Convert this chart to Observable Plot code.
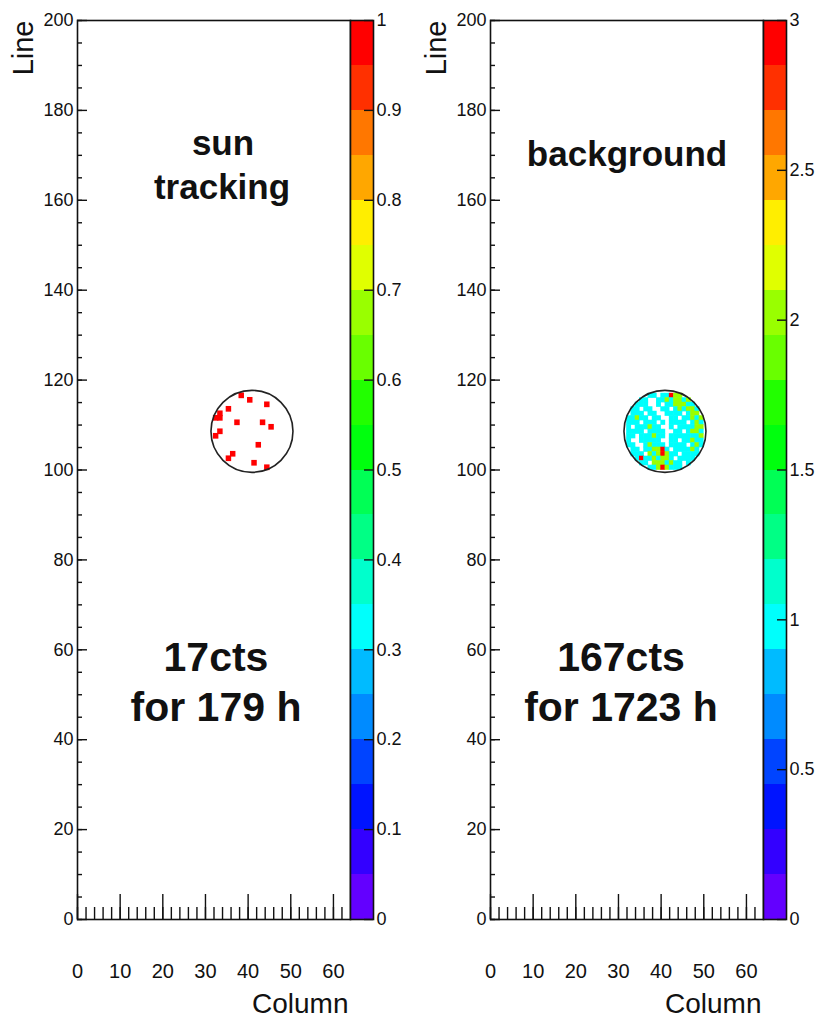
<!DOCTYPE html>
<html>
<head>
<meta charset="utf-8">
<script src="https://cdn.jsdelivr.net/npm/d3@7"></script>
<script src="https://cdn.jsdelivr.net/npm/@observablehq/plot@0.6"></script>
<style>
  html, body { margin: 0; padding: 0; background: #ffffff; }
  #wrap { position: relative; width: 820px; height: 1020px; overflow: hidden; background: #ffffff; }
  #wrap svg { position: absolute; top: 0; max-width: none; }
</style>
</head>
<body>
<div id="wrap"></div>
<script>
// ---------------- data ----------------
// sun tracking: 17 single counts (column, line)
const sunCols  = [38, 40, 44, 35, 33, 32, 33, 37, 43, 45, 33, 32, 42, 36, 35, 41, 44];
const sunLines = [116, 115, 114, 113, 112, 111, 111, 110, 110, 109, 108, 107, 105, 103, 102, 101, 100];

// background: counts per pixel, rows from line 116 down to line 100, columns 32..50 ('.' = 0)
const bgFirstCol = 32;
const bgTopLine = 116;
const bgRows = [
  ".....11.11322......",
  "...11..11212212....",
  "..111..1.1122211...",
  ".11.11..11.121221..",
  ".111.11..1111.122..",
  "11211.11..11.11212.",
  "111.111.1.1111.121.",
  "1.111211..1.111122.",
  "1111.1111..11.1221.",
  "11.111211.11111112.",
  "1..11111..11.11211.",
  "11..12111.1111.121.",
  ".11.112231.111121..",
  ".111.2123211.1111..",
  "..131121221.1111...",
  "...11.2221211.1....",
  ".....11232111......"
];

// detector aperture circle centre (column, line)
const ringCol  = [40.9];
const ringLine = [108.6];

// axis ticks
const xMajor = [0, 10, 20, 30, 40, 50, 60];
const yMajor = [0, 20, 40, 60, 80, 100, 120, 140, 160, 180, 200];
const xMinor = d3.range(0, 64, 2);
const yMinor = d3.range(0, 201, 5);

// colour levels (20 contours) and colour-bar ticks
const sunLevels = [0, 0.05, 0.1, 0.15, 0.2, 0.25, 0.3, 0.35, 0.4, 0.45, 0.5, 0.55, 0.6, 0.65, 0.7, 0.75, 0.8, 0.85, 0.9, 0.95, 1];
const bgLevels  = [0, 0.15, 0.3, 0.45, 0.6, 0.75, 0.9, 1.05, 1.2, 1.35, 1.5, 1.65, 1.8, 1.95, 2.1, 2.25, 2.4, 2.55, 2.7, 2.85, 3];
const sunBarTicks = [0, 0.1, 0.2, 0.3, 0.4, 0.5, 0.6, 0.7, 0.8, 0.9, 1];
const bgBarTicks  = [0, 0.5, 1, 1.5, 2, 2.5, 3];

// ROOT "pretty" palette, 20 contour colours from bottom to top
const palette = ["#6300ff", "#3300ff", "#0014ff", "#0044ff", "#008bff", "#00bbff", "#00fffc", "#00ffcc",
                 "#00ff85", "#00ff55", "#00ff0e", "#22ff00", "#69ff00", "#99ff00", "#e0ff00", "#ffee00",
                 "#ffa700", "#ff7700", "#ff3000", "#ff0000"];

// ---------------- build tables ----------------
const sunCells = sunCols.map((c, i) => ({col: c, line: sunLines[i], value: 1}));
const bgCells = [];
bgRows.forEach((row, i) => {
  [...row].forEach((ch, j) => {
    const v = ch === "." ? 0 : +ch;
    if (v > 0) bgCells.push({col: bgFirstCol + j, line: bgTopLine - i, value: v});
  });
});
const ring = ringCol.map((c, i) => ({col: c, line: ringLine[i]}));

// ---------------- drawing ----------------
const FONT = '"Liberation Sans", Arial, Helvetica, sans-serif';
const INK = "#111";
const FW = 273, FH = 899;   // frame size in px
const H = 1020, MT = 20, MB = 101;

function mainPanel(cells, levels, ml, cellInset, notes) {
  const marks = [
    Plot.rect(cells, {x1: "col", x2: d => d.col + 1, y1: "line", y2: d => d.line + 1, fill: "value", inset: cellInset}),
    Plot.dot(ring, {x: "col", y: "line", r: 41, stroke: "#222", strokeWidth: 1.6, fill: "none"}),
    Plot.tickX(xMinor, {x: d => d, insetTop: FH - 12, stroke: INK, strokeWidth: 1.4}),
    Plot.tickX(xMajor, {x: d => d, insetTop: FH - 25, stroke: INK, strokeWidth: 1.4}),
    Plot.tickY(yMinor, {y: d => d, insetRight: FW - 5, stroke: INK, strokeWidth: 1.4}),
    Plot.tickY(yMajor, {y: d => d, insetRight: FW - 10, stroke: INK, strokeWidth: 1.4}),
    Plot.axisX(xMajor, {tickSize: 0, tickPadding: 44, fontSize: 20, label: null}),
    Plot.axisY(yMajor, {tickSize: 0, tickPadding: 4, fontSize: 18, label: null}),
    Plot.frame({stroke: INK, strokeWidth: 1.6}),
    Plot.text(["Column"], {text: d => d, frameAnchor: "bottom-right", textAnchor: "end", lineAnchor: "bottom",
                           dx: -2, dy: 93, fontSize: 28}),
    Plot.text(["Line"], {text: d => d, frameAnchor: "top-left", rotate: -90, textAnchor: "end", lineAnchor: "middle",
                         dx: -54, dy: 0, fontSize: 29})
  ];
  for (const n of notes) {
    marks.push(Plot.text([n.t], {text: d => d, frameAnchor: "top", textAnchor: "middle", lineAnchor: "bottom",
                                  dx: n.dx, dy: n.base - MT, fontSize: n.fs, fontWeight: "bold"}));
  }
  return Plot.plot({
    width: ml + FW + 2, height: H,
    marginLeft: ml, marginRight: 2, marginTop: MT, marginBottom: MB,
    x: {domain: [0, 64], label: null},
    y: {domain: [0, 200], label: null},
    color: {type: "threshold", domain: levels.slice(1, -1), range: palette},
    style: {fontFamily: FONT, background: "transparent", color: INK, overflow: "visible"},
    marks
  });
}

function colorBar(levels, ticks, w) {
  const bands = d3.pairs(levels).map(([lo, hi]) => ({lo, hi, mid: (lo + hi) / 2}));
  return Plot.plot({
    width: w, height: H,
    marginLeft: 0, marginRight: w - 23, marginTop: MT, marginBottom: MB,
    x: {axis: null, padding: 0},
    y: {domain: [levels[0], levels[levels.length - 1]], axis: null, label: null},
    color: {type: "threshold", domain: levels.slice(1, -1), range: palette},
    style: {fontFamily: FONT, background: "transparent", color: INK, overflow: "visible"},
    marks: [
      Plot.barY(bands, {x: () => "bar", y1: "lo", y2: "hi", fill: "mid", inset: 0, shapeRendering: "crispEdges"}),
      Plot.tickY(ticks, {y: d => d, insetLeft: 14, stroke: INK, strokeWidth: 1.4}),
      Plot.frame({stroke: INK, strokeWidth: 1.6}),
      Plot.axisY(ticks, {anchor: "right", tickSize: 0, tickPadding: 3, fontSize: 18,
                         tickFormat: d3.format("~g"), label: null})
    ]
  });
}

const wrap = document.getElementById("wrap");
function place(svg, left) { svg.style.left = left + "px"; wrap.appendChild(svg); }

place(mainPanel(sunCells, sunLevels, 77, -0.6, [
  {t: "sun", base: 154, dx: 9, fs: 35},
  {t: "tracking", base: 198, dx: 8, fs: 35},
  {t: "17cts", base: 670, dx: 2, fs: 41},
  {t: "for 179 h", base: 720, dx: 2, fs: 41}
]), 0);
place(colorBar(sunLevels, sunBarTicks, 70), 350);

place(mainPanel(bgCells, bgLevels, 90, -0.3, [
  {t: "background", base: 165, dx: 0, fs: 35},
  {t: "167cts", base: 670, dx: -6, fs: 41},
  {t: "for 1723 h", base: 720, dx: -6, fs: 41}
]), 400);
place(colorBar(bgLevels, bgBarTicks, 57), 763);
</script>
</body>
</html>
